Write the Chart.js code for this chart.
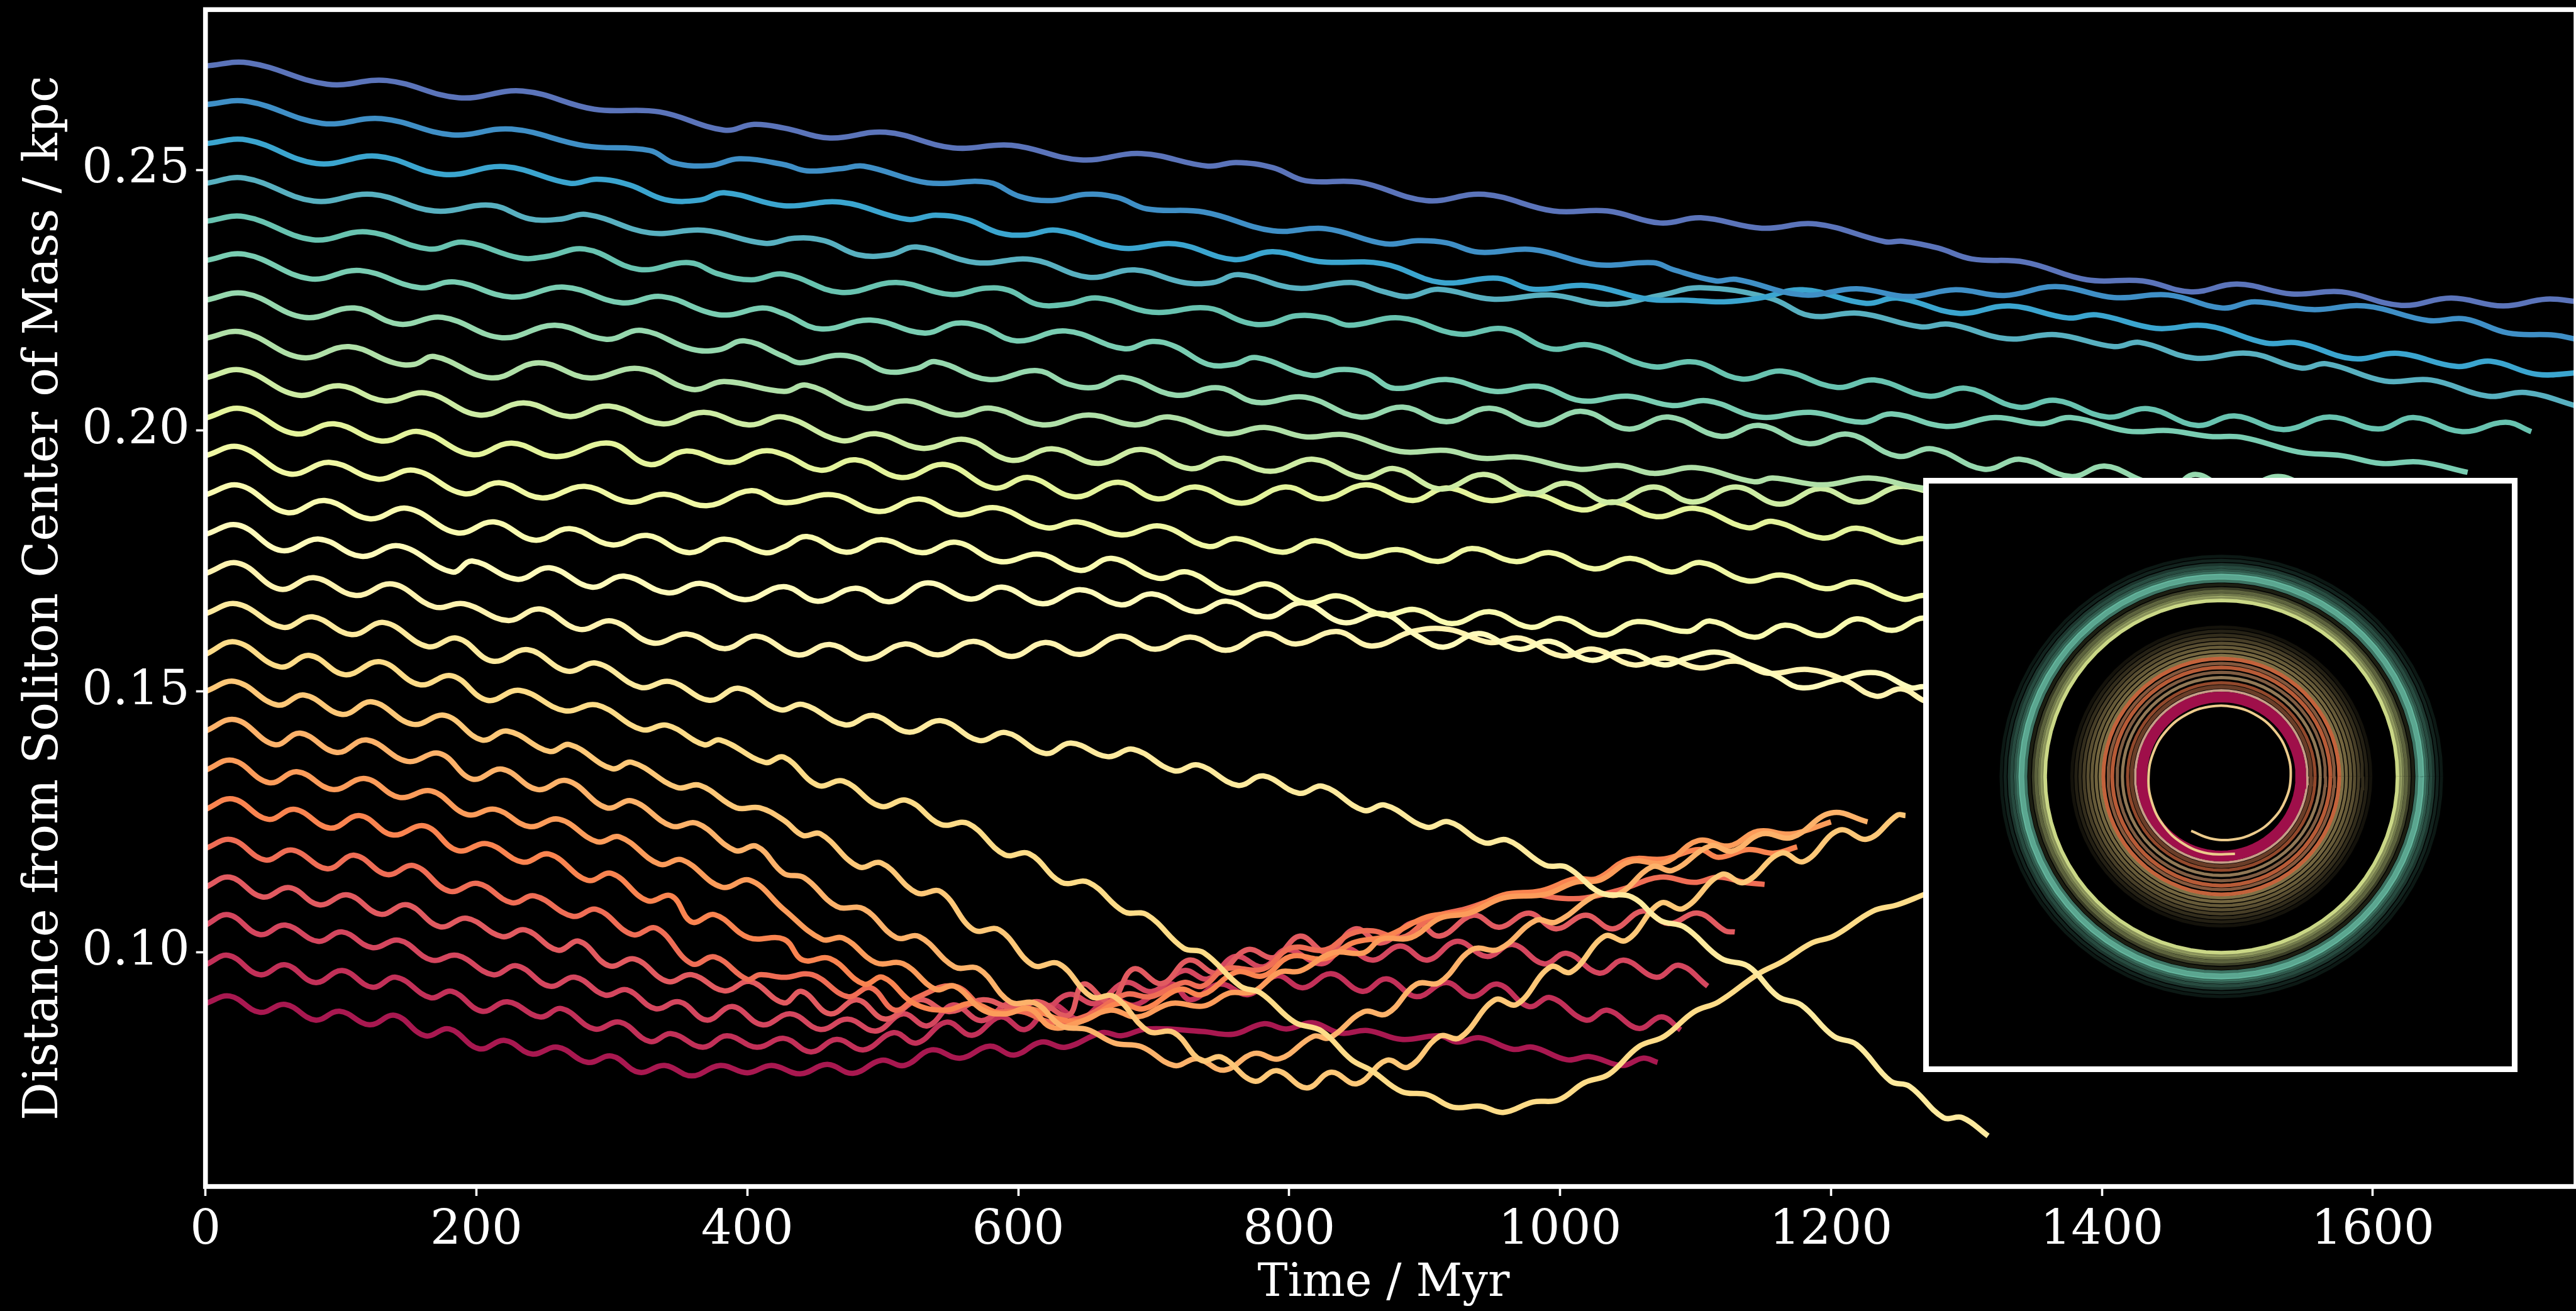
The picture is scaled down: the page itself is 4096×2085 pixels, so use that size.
<!DOCTYPE html>
<html><head><meta charset="utf-8">
<style>html,body{margin:0;padding:0;background:#000;width:4096px;height:2085px;overflow:hidden}
#main{position:absolute;left:0;top:0}#inset{position:absolute;left:3057.5px;top:760px;z-index:2}</style>
<script src="https://cdn.jsdelivr.net/npm/chart.js@4"></script></head><body>
<canvas id="main" width="4096" height="2085"></canvas>
<canvas id="inset" width="945" height="945"></canvas>
<script>
const xLabel="Time / Myr", yLabel="Distance from Soliton Center of Mass / kpc";
const xTicks=[0,200,400,600,800,1000,1200,1400,1600];
const yTicks=[0.10,0.15,0.20,0.25];
const seriesColors=["#5b74ba","#3f8fc6","#3ba5cf","#58b0c0","#68c3b0","#79cdb2","#96d8ae","#b0e0a8","#cdeca4","#e4f49c","#f0f8a4","#f9fbb0","#fffbbb","#fff3b0","#feea9e","#fedc88","#fec878","#fdb26a","#fc9c5a","#fa8450","#ef6d55","#e15a60","#d4465e","#c23058","#a81850"];
const s01=[[0,.2699],[32,.2705],[90,.2664],[134,.2671],[187,.2638],[234,.2651],[287,.2616],[335,.2611],[383,.2576],[405,.2587],[427,.2580],[461,.2561],[502,.2572],[552,.2542],[595,.2547],[646,.2519],[691,.2531],[740,.2507],[761,.2514],[788,.2504],[812,.2479],[852,.2476],[901,.2441],[944,.2453],[995,.2421],[1035,.2421],[1074,.2398],[1104,.2408],[1149,.2388],[1189,.2396],[1240,.2362],[1253,.2363],[1279,.2350],[1304,.2329],[1343,.2323],[1389,.2289],[1430,.2287],[1466,.2266],[1500,.2281],[1540,.2262],[1577,.2266],[1621,.2240],[1658,.2254],[1696,.2239],[1728,.2252],[1752,.2247]];
const s02=[[0,.2625],[31,.2631],[86,.2589],[130,.2598],[182,.2567],[226,.2578],[280,.2546],[328,.2537],[346,.2513],[372,.2508],[394,.2521],[427,.2510],[444,.2498],[469,.2502],[486,.2507],[533,.2475],[578,.2476],[601,.2449],[625,.2441],[650,.2453],[673,.2447],[695,.2425],[737,.2419],[788,.2383],[827,.2387],[871,.2358],[895,.2364],[916,.2360],[940,.2342],[980,.2347],[1027,.2318],[1069,.2322],[1083,.2309],[1115,.2287],[1130,.2290],[1179,.2260],[1219,.2272],[1257,.2257],[1292,.2270],[1328,.2259],[1366,.2276],[1409,.2255],[1449,.2260],[1489,.2235],[1513,.2247],[1555,.2232],[1594,.2239],[1641,.2211],[1668,.2214],[1700,.2187],[1734,.2183],[1752,.2174]];
const s03=[[0,.2550],[31,.2557],[82,.2512],[127,.2526],[176,.2491],[221,.2506],[269,.2474],[289,.2482],[313,.2471],[339,.2443],[365,.2442],[383,.2456],[427,.2431],[469,.2438],[518,.2405],[539,.2413],[563,.2404],[586,.2379],[605,.2375],[629,.2384],[676,.2350],[716,.2358],[759,.2328],[788,.2343],[822,.2324],[869,.2320],[912,.2284],[954,.2292],[980,.2271],[1020,.2278],[1065,.2252],[1094,.2250],[1121,.2247],[1147,.2254],[1179,.2270],[1226,.2244],[1249,.2254],[1294,.2225],[1332,.2239],[1375,.2216],[1396,.2222],[1440,.2196],[1477,.2201],[1521,.2168],[1545,.2168],[1585,.2138],[1619,.2148],[1662,.2123],[1687,.2133],[1721,.2108],[1752,.2111]];
const s04=[[0,.2474],[29,.2484],[80,.2440],[123,.2453],[169,.2421],[211,.2432],[239,.2406],[261,.2405],[282,.2414],[328,.2379],[368,.2384],[413,.2359],[435,.2369],[457,.2364],[482,.2337],[505,.2337],[525,.2352],[569,.2322],[610,.2328],[652,.2294],[686,.2308],[722,.2284],[744,.2284],[763,.2299],[805,.2273],[846,.2284],[869,.2267],[888,.2257],[910,.2271],[950,.2252],[993,.2260],[1035,.2242],[1075,.2260],[1104,.2274],[1155,.2254],[1185,.2220],[1221,.2225],[1266,.2199],[1287,.2204],[1330,.2176],[1366,.2184],[1409,.2161],[1428,.2169],[1468,.2139],[1509,.2148],[1547,.2120],[1566,.2128],[1609,.2095],[1643,.2097],[1685,.2066],[1713,.2073],[1752,.2046]];
const s05=[[0,.2401],[29,.2410],[79,.2366],[119,.2381],[165,.2348],[191,.2361],[232,.2331],[252,.2334],[280,.2348],[320,.2309],[357,.2322],[379,.2300],[403,.2289],[427,.2300],[469,.2265],[510,.2284],[550,.2261],[576,.2273],[593,.2269],[614,.2242],[635,.2242],[659,.2254],[699,.2227],[740,.2235],[767,.2208],[784,.2204],[805,.2220],[827,.2216],[844,.2202],[882,.2216],[925,.2185],[959,.2195],[993,.2157],[1022,.2164],[1067,.2123],[1094,.2132],[1104,.2129],[1134,.2099],[1164,.2114],[1204,.2083],[1232,.2097],[1272,.2066],[1300,.2081],[1338,.2045],[1366,.2058],[1404,.2026],[1434,.2042],[1470,.2010],[1498,.2028],[1534,.2002],[1568,.2026],[1604,.2003],[1630,.2025],[1666,.1998],[1698,.2016],[1717,.1998]];
const s06=[[0,.2326],[29,.2338],[77,.2291],[114,.2307],[158,.2274],[184,.2285],[226,.2256],[265,.2275],[307,.2245],[337,.2257],[372,.2226],[387,.2222],[411,.2235],[427,.2224],[454,.2195],[491,.2212],[531,.2187],[554,.2206],[573,.2199],[599,.2172],[635,.2191],[678,.2157],[699,.2171],[716,.2161],[740,.2127],[759,.2127],[776,.2140],[816,.2106],[837,.2117],[857,.2110],[878,.2081],[916,.2098],[952,.2075],[984,.2085],[1016,.2057],[1050,.2066],[1083,.2048],[1109,.2057],[1147,.2026],[1185,.2035],[1223,.2016],[1245,.2032],[1285,.2008],[1321,.2025],[1355,.2013],[1377,.2025],[1419,.1999],[1449,.2000],[1479,.1989],[1504,.1987],[1545,.1959],[1577,.1952],[1606,.1937],[1634,.1940],[1670,.1920]];
const s07=[[0,.2250],[29,.2263],[73,.2217],[110,.2235],[143,.2204],[175,.2217],[219,.2178],[258,.2202],[296,.2175],[322,.2192],[359,.2156],[379,.2155],[398,.2172],[427,.2142],[439,.2130],[465,.2144],[482,.2138],[503,.2113],[525,.2119],[539,.2132],[578,.2098],[614,.2115],[637,.2089],[657,.2083],[678,.2102],[716,.2068],[748,.2082],[776,.2054],[812,.2064],[852,.2026],[884,.2045],[916,.2017],[948,.2043],[984,.2011],[1016,.2037],[1050,.2003],[1080,.2026],[1119,.1989],[1147,.2010],[1183,.1975],[1213,.1993],[1249,.1951],[1275,.1965],[1313,.1926],[1340,.1945],[1377,.1912],[1402,.1932],[1428,.1906],[1449,.1885],[1469,.1916],[1498,.1882],[1530,.1912],[1557,.1882]];
const s08=[[0,.2177],[27,.2189],[71,.2140],[106,.2161],[139,.2130],[154,.2127],[169,.2142],[211,.2101],[246,.2130],[283,.2101],[320,.2119],[359,.2079],[383,.2094],[427,.2075],[444,.2087],[486,.2043],[518,.2057],[554,.2030],[580,.2043],[618,.2011],[652,.2030],[686,.2011],[712,.2026],[752,.1994],[782,.2006],[812,.1988],[842,.1992],[882,.1960],[916,.1962],[942,.1947],[971,.1949],[1014,.1926],[1044,.1933],[1069,.1918],[1100,.1929],[1143,.1902],[1157,.1909],[1194,.1896],[1228,.1909],[1262,.1892],[1304,.1879],[1347,.1866]];
const s09=[[0,.2101],[27,.2116],[68,.2068],[99,.2086],[132,.2057],[163,.2072],[202,.2030],[235,.2053],[269,.2027],[298,.2047],[337,.2013],[368,.2035],[401,.2011],[427,.2026],[469,.1981],[495,.1994],[529,.1966],[561,.1983],[595,.1943],[625,.1965],[659,.1937],[691,.1964],[727,.1927],[752,.1947],[786,.1922],[818,.1945],[854,.1910],[878,.1927],[912,.1888],[944,.1916],[978,.1879],[1005,.1899],[1037,.1862],[1069,.1892],[1098,.1863],[1130,.1892],[1162,.1859],[1192,.1889],[1221,.1863],[1249,.1892],[1269,.1885],[1304,.1859]];
const s10=[[0,.2024],[27,.2042],[66,.1994],[95,.2013],[130,.1980],[158,.1998],[197,.1954],[226,.1976],[259,.1950],[298,.1976],[328,.1935],[355,.1961],[387,.1939],[411,.1961],[427,.1954],[454,.1924],[480,.1944],[514,.1910],[546,.1935],[582,.1890],[608,.1910],[642,.1873],[674,.1901],[703,.1869],[731,.1892],[765,.1861],[797,.1892],[825,.1869],[857,.1896],[891,.1866],[916,.1890],[948,.1866],[980,.1879],[1016,.1848],[1040,.1863],[1071,.1835],[1100,.1851],[1138,.1814],[1157,.1826],[1194,.1794],[1219,.1813],[1251,.1786],[1269,.1793],[1296,.1773]];
const s11=[[0,.1952],[25,.1969],[62,.1917],[92,.1939],[127,.1907],[154,.1924],[191,.1879],[217,.1900],[248,.1871],[280,.1893],[313,.1863],[339,.1878],[370,.1856],[403,.1885],[427,.1862],[463,.1877],[497,.1845],[527,.1869],[556,.1839],[584,.1852],[620,.1814],[644,.1825],[676,.1800],[705,.1817],[740,.1778],[761,.1793],[795,.1767],[820,.1789],[852,.1759],[880,.1772],[910,.1749],[935,.1774],[967,.1749],[993,.1766],[1025,.1735],[1052,.1755],[1082,.1729],[1104,.1747],[1138,.1712],[1164,.1723],[1196,.1697],[1219,.1710],[1253,.1677],[1269,.1684],[1296,.1667]];
const s12=[[0,.1877],[25,.1895],[60,.1843],[88,.1866],[121,.1831],[149,.1851],[186,.1804],[213,.1825],[243,.1790],[269,.1812],[300,.1781],[326,.1799],[357,.1766],[383,.1792],[413,.1766],[427,.1777],[444,.1797],[473,.1767],[499,.1791],[529,.1766],[554,.1786],[586,.1749],[616,.1763],[646,.1732],[669,.1755],[703,.1717],[725,.1729],[757,.1689],[784,.1706],[812,.1670],[837,.1683],[869,.1647],[893,.1657],[920,.1630],[948,.1653],[978,.1623],[1001,.1640],[1031,.1608],[1057,.1634],[1094,.1615],[1111,.1635],[1143,.1604],[1166,.1627],[1194,.1607],[1219,.1639],[1245,.1617],[1269,.1641],[1296,.1617]];
const s13=[[0,.1801],[24,.1819],[56,.1770],[84,.1792],[115,.1759],[143,.1779],[182,.1729],[197,.1750],[230,.1715],[254,.1737],[285,.1700],[309,.1721],[341,.1689],[366,.1707],[398,.1676],[427,.1701],[452,.1673],[480,.1698],[505,.1672],[533,.1708],[565,.1677],[588,.1700],[618,.1668],[646,.1695],[676,.1666],[699,.1687],[731,.1653],[754,.1673],[784,.1643],[810,.1670],[840,.1632],[869,.1649],[895,.1606],[914,.1585],[940,.1611],[969,.1581],[993,.1596],[1022,.1560],[1048,.1577],[1076,.1551],[1094,.1564],[1117,.1575],[1139,.1552],[1158,.1532],[1178,.1507],[1205,.1522],[1233,.1536],[1259,.1507],[1269,.1509],[1290,.1490]];
const s14=[[0,.1726],[24,.1746],[55,.1696],[80,.1718],[111,.1684],[138,.1706],[169,.1662],[191,.1668],[223,.1636],[247,.1658],[276,.1619],[300,.1635],[330,.1593],[356,.1610],[383,.1582],[407,.1606],[437,.1570],[461,.1590],[488,.1562],[516,.1591],[541,.1570],[567,.1596],[595,.1567],[620,.1594],[646,.1571],[675,.1606],[701,.1581],[727,.1604],[754,.1579],[782,.1611],[805,.1591],[835,.1615],[861,.1587],[891,.1615],[918,.1619],[948,.1594],[971,.1602],[1001,.1568],[1025,.1581],[1054,.1551],[1078,.1564],[1103,.1545],[1130,.1558],[1153,.1535],[1183,.1542],[1210,.1522],[1233,.1491],[1252,.1505],[1269,.1482],[1290,.1465]];
const s15=[[0,.1649],[23,.1668],[57,.1623],[79,.1643],[108,.1609],[132,.1632],[164,.1586],[186,.1602],[212,.1558],[238,.1580],[267,.1539],[289,.1554],[321,.1508],[343,.1519],[372,.1483],[394,.1506],[424,.1465],[441,.1475],[472,.1436],[493,.1454],[519,.1422],[543,.1444],[571,.1406],[591,.1421],[620,.1381],[639,.1401],[666,.1375],[685,.1389],[715,.1348],[733,.1359],[762,.1320],[781,.1338],[807,.1305],[825,.1318],[855,.1272],[871,.1282],[901,.1240],[918,.1250],[944,.1210],[961,.1215],[989,.1167],[1005,.1163],[1030,.1114],[1053,.1106],[1074,.1061],[1092,.1048],[1119,.0988],[1139,.0973],[1161,.0915],[1178,.0899],[1202,.0839],[1219,.0823],[1244,.0753],[1258,.0743],[1283,.0683],[1297,.0683],[1316,.0648]];
const s16=[[0,.1571],[22,.1595],[55,.1547],[77,.1569],[103,.1532],[129,.1557],[158,.1513],[182,.1530],[208,.1483],[232,.1502],[265,.1463],[289,.1474],[322,.1427],[341,.1435],[368,.1398],[380,.1407],[413,.1364],[427,.1374],[452,.1320],[471,.1328],[498,.1280],[518,.1291],[543,.1245],[563,.1247],[590,.1187],[608,.1189],[632,.1134],[652,.1134],[678,.1078],[695,.1072],[722,.1008],[737,.0999],[764,.0935],[779,.0922],[804,.0866],[824,.0849],[846,.0794],[861,.0773],[883,.0733],[902,.0727],[921,.0703],[941,.0705],[958,.0693],[980,.0713],[999,.0717],[1018,.0750],[1036,.0766],[1058,.0819],[1077,.0839],[1099,.0886],[1117,.0905],[1146,.0958],[1164,.0982],[1186,.1018],[1202,.1031],[1231,.1079],[1249,.1091],[1269,.1111],[1289,.1131]];
const s17=[[0,.1500],[22,.1519],[53,.1474],[73,.1493],[101,.1456],[123,.1480],[153,.1437],[177,.1454],[204,.1407],[223,.1424],[254,.1385],[269,.1398],[300,.1352],[315,.1364],[348,.1316],[365,.1320],[392,.1277],[409,.1277],[427,.1253],[441,.1224],[454,.1227],[482,.1164],[499,.1171],[525,.1114],[543,.1116],[567,.1043],[586,.1043],[611,.0975],[630,.0978],[654,.0915],[671,.0915],[696,.0849],[715,.0846],[735,.0793],[750,.0799],[774,.0753],[791,.0773],[813,.0740],[831,.0770],[850,.0748],[872,.0793],[888,.0780],[911,.0839],[926,.0836],[952,.0909],[968,.0900],[993,.0972],[1008,.0962],[1033,.1031],[1049,.1023],[1074,.1094],[1091,.1084],[1119,.1149],[1136,.1134],[1163,.1190],[1180,.1174],[1206,.1234],[1227,.1217],[1249,.1263],[1255,.1262]];
const s18=[[0,.1424],[22,.1446],[51,.1398],[70,.1420],[97,.1383],[119,.1407],[149,.1366],[173,.1381],[197,.1332],[219,.1351],[245,.1312],[267,.1329],[296,.1277],[315,.1290],[344,.1242],[363,.1247],[391,.1195],[407,.1203],[427,.1151],[442,.1143],[466,.1088],[486,.1083],[510,.1028],[527,.1030],[553,.0972],[571,.0968],[594,.0905],[613,.0902],[632,.0859],[651,.0852],[671,.0826],[691,.0819],[715,.0783],[732,.0796],[752,.0774],[774,.0806],[793,.0796],[818,.0839],[830,.0836],[855,.0886],[872,.0882],[894,.0939],[911,.0942],[935,.1005],[955,.1006],[982,.1061],[997,.1058],[1027,.1110],[1043,.1111],[1068,.1164],[1083,.1157],[1111,.1204],[1127,.1194],[1149,.1227],[1171,.1220],[1200,.1267],[1227,.1250]];
const s19=[[0,.1349],[20,.1368],[47,.1325],[68,.1346],[94,.1312],[118,.1333],[143,.1297],[167,.1309],[193,.1264],[214,.1274],[239,.1241],[261,.1255],[289,.1212],[306,.1221],[335,.1169],[352,.1177],[381,.1125],[402,.1138],[427,.1082],[455,.1025],[471,.1027],[495,.0980],[515,.0978],[539,.0929],[553,.0935],[574,.0889],[591,.0882],[608,.0892],[625,.0856],[645,.0866],[668,.0889],[688,.0876],[713,.0902],[737,.0897],[756,.0922],[773,.0924],[793,.0962],[808,.0964],[832,.0999],[855,.0999],[868,.1025],[890,.1028],[911,.1065],[933,.1075],[958,.1104],[989,.1111],[1011,.1134],[1030,.1139],[1052,.1174],[1077,.1172],[1102,.1214],[1125,.1204],[1146,.1232],[1171,.1227],[1200,.1250]];
const s20=[[0,.1274],[20,.1294],[46,.1255],[66,.1274],[92,.1238],[114,.1262],[138,.1225],[162,.1242],[186,.1195],[208,.1208],[234,.1173],[254,.1188],[282,.1138],[300,.1151],[326,.1099],[344,.1108],[359,.1058],[376,.1072],[401,.1028],[427,.1025],[441,.0985],[461,.0988],[486,.0939],[500,.0952],[523,.0902],[546,.0889],[566,.0902],[588,.0882],[608,.0892],[630,.0872],[648,.0869],[674,.0902],[693,.0892],[719,.0929],[736,.0919],[761,.0962],[781,.0955],[801,.0992],[827,.0988],[847,.1018],[872,.1031],[902,.1068],[930,.1078],[958,.1110],[986,.1118],[1011,.1141],[1027,.1141],[1050,.1177],[1077,.1179],[1103,.1197],[1117,.1182],[1139,.1197],[1158,.1190],[1175,.1202]];
const s21=[[0,.1199],[19,.1216],[44,.1177],[64,.1196],[90,.1160],[110,.1186],[134,.1149],[154,.1166],[180,.1117],[201,.1132],[226,.1095],[243,.1108],[271,.1069],[289,.1082],[315,.1034],[333,.1046],[359,.0978],[376,.0991],[400,.0948],[409,.0957],[427,.0952],[448,.0957],[474,.0915],[491,.0932],[509,.0889],[525,.0913],[553,.0935],[577,.0889],[603,.0886],[625,.0866],[651,.0879],[679,.0919],[698,.0915],[722,.0942],[736,.0935],[753,.0968],[781,.0968],[801,.1008],[827,.1005],[845,.1035],[862,.1041],[883,.1028],[905,.1066],[930,.1083],[952,.1101],[977,.1111],[999,.1104],[1018,.1104],[1046,.1121],[1074,.1144],[1099,.1134],[1117,.1144],[1136,.1134],[1151,.1130]];
const s22=[[0,.1125],[18,.1144],[42,.1106],[62,.1124],[84,.1091],[105,.1110],[129,.1073],[149,.1091],[173,.1049],[193,.1065],[219,.1030],[236,.1043],[260,.1004],[276,.1021],[298,.0974],[317,.0987],[341,.0944],[359,.0957],[383,.0926],[402,.0944],[427,.0903],[440,.0925],[461,.0882],[481,.0909],[502,.0872],[527,.0909],[549,.0886],[574,.0909],[597,.0892],[615,.0905],[637,.0879],[648,.0939],[668,.0905],[685,.0968],[706,.0940],[726,.0985],[747,.0960],[769,.1005],[789,.0990],[808,.1031],[828,.1000],[849,.1045],[868,.1018],[893,.1058],[911,.1031],[936,.1071],[955,.1048],[977,.1075],[997,.1045],[1019,.1071],[1039,.1045],[1061,.1079],[1080,.1055],[1102,.1075],[1122,.1041],[1129,.1039]];
const s23=[[0,.1052],[17,.1072],[40,.1034],[59,.1052],[83,.1021],[101,.1039],[123,.1009],[143,.1023],[167,.0985],[186,.0994],[212,.0957],[230,.0974],[254,.0935],[273,.0952],[295,.0918],[311,.0928],[332,.0892],[350,.0905],[370,.0870],[389,.0896],[411,.0861],[432,.0882],[454,.0852],[474,.0872],[495,.0849],[515,.0882],[533,.0859],[552,.0899],[573,.0869],[594,.0902],[614,.0879],[637,.0919],[657,.0902],[679,.0942],[699,.0925],[722,.0965],[740,.0949],[760,.0992],[781,.0972],[798,.1005],[824,.0978],[841,.1008],[862,.0985],[882,.1012],[902,.0985],[924,.1021],[946,.0992],[965,.1015],[988,.0978],[1005,.0998],[1029,.0960],[1047,.0985],[1071,.0952],[1088,.0975],[1109,.0935]];
const s24=[[0,.0976],[17,.0994],[40,.0957],[59,.0976],[81,.0942],[101,.0965],[123,.0933],[141,.0952],[166,.0913],[182,.0925],[204,.0887],[223,.0905],[247,.0876],[263,.0892],[287,.0853],[306,.0866],[328,.0829],[344,.0844],[367,.0818],[385,.0840],[407,.0818],[427,.0835],[447,.0809],[466,.0833],[486,.0813],[508,.0846],[525,.0826],[547,.0866],[566,.0841],[587,.0876],[605,.0852],[625,.0899],[645,.0872],[668,.0912],[686,.0899],[713,.0939],[727,.0909],[749,.0939],[770,.0919],[791,.0955],[810,.0932],[831,.0959],[854,.0925],[872,.0949],[894,.0915],[916,.0942],[935,.0915],[954,.0939],[977,.0896],[993,.0913],[1019,.0870],[1035,.0889],[1058,.0854],[1075,.0876],[1089,.0851]];
const s25=[[0,.0902],[18,.0916],[40,.0885],[59,.0900],[81,.0870],[99,.0887],[121,.0861],[140,.0879],[162,.0840],[180,.0853],[202,.0815],[221,.0831],[241,.0805],[260,.0818],[282,.0789],[300,.0801],[320,.0770],[339,.0783],[359,.0763],[380,.0783],[400,.0769],[418,.0783],[439,.0767],[459,.0785],[478,.0768],[499,.0793],[516,.0783],[536,.0813],[557,.0797],[579,.0820],[597,.0803],[617,.0828],[635,.0818],[662,.0846],[676,.0840],[695,.0853],[736,.0848],[759,.0843],[781,.0863],[798,.0853],[817,.0865],[838,.0845],[858,.0850],[883,.0833],[911,.0840],[924,.0828],[941,.0836],[965,.0814],[980,.0818],[1005,.0794],[1022,.0800],[1046,.0783],[1061,.0797],[1072,.0789]];
const allSeries=[s01,s02,s03,s04,s05,s06,s07,s08,s09,s10,s11,s12,s13,s14,s15,s16,s17,s18,s19,s20,s21,s22,s23,s24,s25];
// inset: orbit rings (radius in kpc)
const ringRadii=[.2297,.2255,.2212,.2183,.2149,.2120,.2086,.2044,.2002,.1960,.1930,.1896,.1867,.1837,.1559,.1517,.1475,.1433,.1391,.1349,.1306,.1264,.1230,.1180,.1138,.1087,.1032,.0978,.0936,.0898,.0830];
const ringColors=["#66c2a5","#66c2a5","#66c2a5","#66c2a5","#66c2a5","#66c2a5","#6fcbb0","#66c2a5","#e6f598","#e6f598","#e6f598","#e6f598","#e6f598","#e6f598","#fee08b","#fee08b","#fee08b","#fee08b","#fee08b","#fee08b","#fee08b","#fee08b","#f47a4a","#f0a070","#f47a4a","#e8a878","#f0c890","#f47a4a","#c07048","#f8c4a8","#a8104e"];
const ringAlpha=[.12,.18,.28,.38,.45,.55,.82,.6,.12,.25,.4,.5,.6,.88,.08,.14,.2,.28,.35,.4,.45,.5,.8,.55,.75,.55,.6,.6,.55,.8,.95];
const ringWidth=[5,5,5,4.5,5,5,9,6,5,5,5,5,5,5.5,5,5,5,5,5,5,5,5,6,5,6,5,5,5,6,4,17];
const spiralAngle=[241,260,280,300,320,340,360,380,400,420,440,460,480,500,520,540,560,580,600,620,640];
const spiralRadius=[.0649,.0656,.0668,.0683,.0698,.0713,.0724,.0730,.0734,.0736,.0737,.0739,.0742,.0746,.0751,.0759,.0772,.0790,.0805,.0815,.0820];
const ringAngles=[];for(let a=0;a<=360;a+=5)ringAngles.push(a);

const hex=(h,a)=>{const n=parseInt(h.slice(1),16);return `rgba(${n>>16},${(n>>8)&255},${n&255},${a})`;};
const frame=lw=>({id:'frame',afterDraw(c){const a=c.chartArea,g=c.ctx;g.save();g.strokeStyle='#fff';g.lineWidth=lw;g.strokeRect(a.left,a.top,a.right-a.left,a.bottom-a.top);g.restore();}});
const bg={id:'bg',beforeDraw(c){c.ctx.fillStyle='#000';c.ctx.fillRect(0,0,c.width,c.height);}};
const tickFont={family:'"DejaVu Serif"',size:77};

new Chart(document.getElementById('main'),{type:'line',plugins:[bg,frame(7.6)],
 data:{datasets:allSeries.map((s,i)=>({label:'s'+(i+1),data:s.map(p=>({x:p[0],y:p[1]})),borderColor:seriesColors[i],borderWidth:8.5,pointRadius:0,tension:.4,fill:false}))},
 options:{responsive:false,animation:false,devicePixelRatio:1,layout:{padding:{top:15.3,right:0,left:0,bottom:0}},
  plugins:{legend:{display:false},tooltip:{enabled:false},title:{display:false}},
  scales:{
   x:{type:'linear',min:0,max:1750,afterBuildTicks:a=>{a.ticks=xTicks.map(v=>({value:v}));},afterFit:a=>{a.height=198;a.paddingLeft=0;a.paddingRight=0;},
      grid:{display:true,drawOnChartArea:false,drawTicks:true,tickLength:15,tickWidth:3.6,tickColor:'#fff'},border:{display:false},
      ticks:{color:'#fff',font:tickFont,maxRotation:0,autoSkip:false,padding:10,callback:v=>String(v)},
      title:{display:true,text:xLabel+' ',color:'#fff',font:{family:'"DejaVu Serif"',size:72},padding:{top:0,bottom:0}}},
   y:{type:'linear',min:.0551,max:.2807,afterBuildTicks:a=>{a.ticks=yTicks.map(v=>({value:v}));},afterFit:a=>{a.width=326.7;a.paddingTop=0;a.paddingBottom=0;},
      grid:{display:true,drawOnChartArea:false,drawTicks:true,tickLength:15,tickWidth:3.6,tickColor:'#fff'},border:{display:false},
      ticks:{color:'#fff',font:tickFont,autoSkip:false,padding:10,callback:v=>v.toFixed(2)},
      title:{display:true,text:yLabel,color:'#fff',font:{family:'"DejaVu Serif"',size:76},padding:{top:26,bottom:0}}}
  }}});

const ringSets=ringRadii.map((r,i)=>({label:'ring'+i,data:ringAngles.map(a=>({x:r*Math.cos(a*Math.PI/180),y:r*Math.sin(a*Math.PI/180)})),borderColor:hex(ringColors[i],ringAlpha[i]),borderWidth:ringWidth[i],pointRadius:0,showLine:true,tension:0}));
const spiralSet={label:'spiral',data:spiralAngle.map((a,i)=>({x:spiralRadius[i]*Math.cos(a*Math.PI/180),y:spiralRadius[i]*Math.sin(a*Math.PI/180)})),borderColor:'#eccb8c',borderWidth:4,pointRadius:0,showLine:true,tension:.4};
new Chart(document.getElementById('inset'),{type:'scatter',plugins:[bg,frame(9.1)],
 data:{datasets:[spiralSet].concat(ringSets.slice().reverse())},
 options:{responsive:false,animation:false,devicePixelRatio:1,layout:{padding:4.5},
  plugins:{legend:{display:false},tooltip:{enabled:false}},
  scales:{x:{type:'linear',display:false,min:-.308,max:.306},y:{type:'linear',display:false,min:-.3054,max:.3086}}}});
</script></body></html>
